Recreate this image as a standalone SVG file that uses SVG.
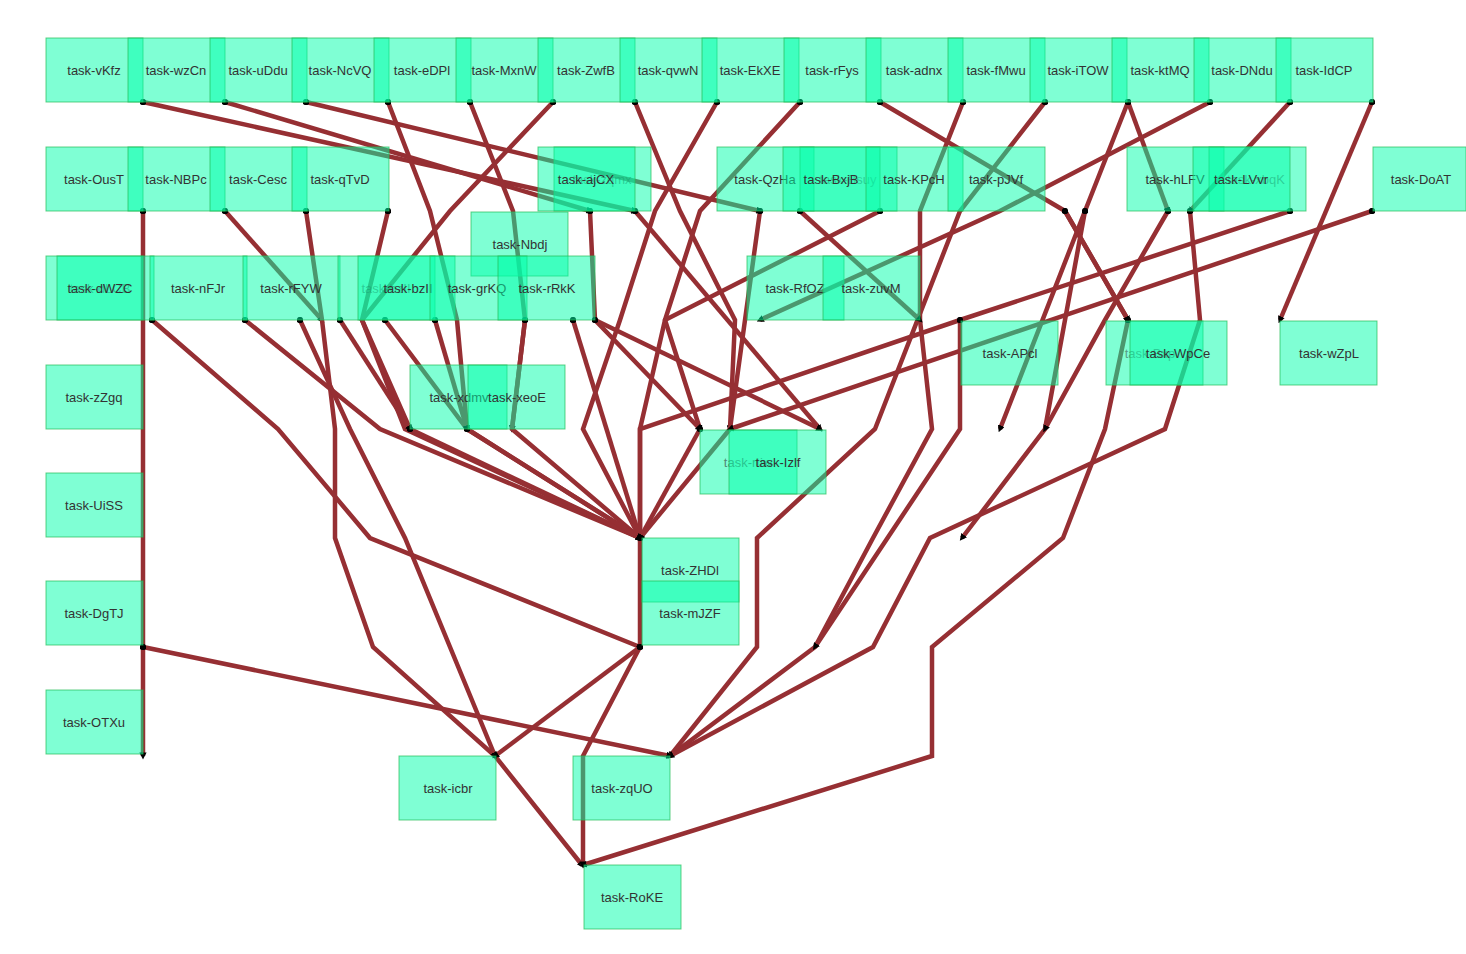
<svg xmlns="http://www.w3.org/2000/svg" width="1466" height="954" viewBox="0 0 1466 954">
<style>
.e{fill:none;stroke:#962f33;stroke-width:4.5;stroke-linejoin:miter;marker-end:url(#a);marker-start:url(#d)}
.n rect{fill:#00ffaa;fill-opacity:0.5;stroke:#22bb55;stroke-opacity:0.7;stroke-width:1}
.n text{font-family:"Liberation Sans",Arial,sans-serif;font-size:13px;fill:#333;text-anchor:middle;dominant-baseline:central}
</style>
<defs>
<marker id="a" viewBox="0 0 6 6" refX="3" refY="3" markerWidth="1.6" markerHeight="1.6" orient="auto"><path d="M0,0L6,3L0,6z" fill="#000"/></marker>
<marker id="d" viewBox="0 0 6 6" refX="3" refY="3" markerWidth="1.4" markerHeight="1.4"><circle cx="3" cy="3" r="3" fill="#000"/></marker>
</defs>
<rect width="1466" height="954" fill="#fff"/>
<g id="edges">
<polyline class="e" points="143,102 635,211"/>
<polyline class="e" points="225,102 590,211"/>
<polyline class="e" points="306,102 760,211"/>
<polyline class="e" points="388,102 430,211 457,320 467,429"/>
<polyline class="e" points="470,102 513,211 525,320 512,429"/>
<polyline class="e" points="553,102 450,211 362,320 410,429"/>
<polyline class="e" points="635,102 680,211 735,320 730,429"/>
<polyline class="e" points="717,102 655,211 620,320 583,429 640,538"/>
<polyline class="e" points="800,102 700,211 665,320 700,429"/>
<polyline class="e" points="880,102 1065,211 1128,320"/>
<polyline class="e" points="963,102 920,211 920,320 932,429 873,538 815,647 670,756"/>
<polyline class="e" points="1045,102 960,211 875,429 757,538 757,647 670,756"/>
<polyline class="e" points="1128,102 1168,211"/>
<polyline class="e" points="1128,102 1085,211 1000,429"/>
<polyline class="e" points="1210,102 1000,211 760,320"/>
<polyline class="e" points="1290,102 1190,211"/>
<polyline class="e" points="1372,102 1280,320"/>
<polyline class="e" points="143,211 143,756"/>
<polyline class="e" points="225,211 322,320"/>
<polyline class="e" points="306,211 322,320 335,429 335,538 373,647 495,756 582,865"/>
<polyline class="e" points="388,211 362,320 405,429 640,538"/>
<polyline class="e" points="590,211 595,320 700,429"/>
<polyline class="e" points="635,211 820,429"/>
<polyline class="e" points="760,211 730,429 640,538"/>
<polyline class="e" points="800,211 920,320"/>
<polyline class="e" points="880,211 665,320 640,429 640,538"/>
<polyline class="e" points="1065,211 1128,320"/>
<polyline class="e" points="1085,211 1045,429 962,538"/>
<polyline class="e" points="1168,211 1105,320 1045,429"/>
<polyline class="e" points="1190,211 1200,320 1165,429 930,538 873,647 670,756"/>
<polyline class="e" points="1290,211 960,320 640,429 640,538"/>
<polyline class="e" points="1372,211 730,429"/>
<polyline class="e" points="152,320 278,429 370,538 640,647"/>
<polyline class="e" points="245,320 380,429 640,538"/>
<polyline class="e" points="300,320 350,429 405,538 450,647 495,756"/>
<polyline class="e" points="340,320 410,429"/>
<polyline class="e" points="385,320 467,429 640,538"/>
<polyline class="e" points="435,320 467,429"/>
<polyline class="e" points="525,320 512,429 640,538"/>
<polyline class="e" points="573,320 640,538"/>
<polyline class="e" points="595,320 820,429"/>
<polyline class="e" points="960,320 960,429 815,647"/>
<polyline class="e" points="1128,320 1105,429 1063,538 932,647 932,756 583,865"/>
<polyline class="e" points="410,429 640,538"/>
<polyline class="e" points="467,429 640,538"/>
<polyline class="e" points="700,429 640,538"/>
<polyline class="e" points="640,538 640,647 583,756 583,865"/>
<polyline class="e" points="143,647 670,756"/>
<polyline class="e" points="640,647 495,756"/>
</g>
<g id="nodes" class="n">
<g id="n-vKfz"><rect x="46" y="38" width="97" height="64"/><text x="94" y="70">task-vKfz</text></g>
<g id="n-wzCn"><rect x="128" y="38" width="97" height="64"/><text x="176" y="70">task-wzCn</text></g>
<g id="n-uDdu"><rect x="210" y="38" width="97" height="64"/><text x="258" y="70">task-uDdu</text></g>
<g id="n-NcVQ"><rect x="292" y="38" width="97" height="64"/><text x="340" y="70">task-NcVQ</text></g>
<g id="n-eDPl"><rect x="374" y="38" width="97" height="64"/><text x="422" y="70">task-eDPl</text></g>
<g id="n-MxnW"><rect x="456" y="38" width="97" height="64"/><text x="504" y="70">task-MxnW</text></g>
<g id="n-ZwfB"><rect x="538" y="38" width="97" height="64"/><text x="586" y="70">task-ZwfB</text></g>
<g id="n-qvwN"><rect x="620" y="38" width="97" height="64"/><text x="668" y="70">task-qvwN</text></g>
<g id="n-EkXE"><rect x="702" y="38" width="97" height="64"/><text x="750" y="70">task-EkXE</text></g>
<g id="n-rFys"><rect x="784" y="38" width="97" height="64"/><text x="832" y="70">task-rFys</text></g>
<g id="n-adnx"><rect x="866" y="38" width="97" height="64"/><text x="914" y="70">task-adnx</text></g>
<g id="n-fMwu"><rect x="948" y="38" width="97" height="64"/><text x="996" y="70">task-fMwu</text></g>
<g id="n-iTOW"><rect x="1030" y="38" width="97" height="64"/><text x="1078" y="70">task-iTOW</text></g>
<g id="n-ktMQ"><rect x="1112" y="38" width="97" height="64"/><text x="1160" y="70">task-ktMQ</text></g>
<g id="n-DNdu"><rect x="1194" y="38" width="97" height="64"/><text x="1242" y="70">task-DNdu</text></g>
<g id="n-IdCP"><rect x="1276" y="38" width="97" height="64"/><text x="1324" y="70">task-IdCP</text></g>
<g id="n-OusT"><rect x="46" y="147" width="97" height="64"/><text x="94" y="179">task-OusT</text></g>
<g id="n-NBPc"><rect x="128" y="147" width="97" height="64"/><text x="176" y="179">task-NBPc</text></g>
<g id="n-Cesc"><rect x="210" y="147" width="97" height="64"/><text x="258" y="179">task-Cesc</text></g>
<g id="n-qTvD"><rect x="292" y="147" width="97" height="64"/><text x="340" y="179">task-qTvD</text></g>
<g id="n-mx"><rect x="554" y="147" width="97" height="64"/><text x="602" y="179" fill-opacity="0.5">task-zqmx</text></g>
<g id="n-ajCX"><rect x="538" y="147" width="97" height="64"/><text x="586" y="179">task-ajCX</text></g>
<g id="n-QzHa"><rect x="717" y="147" width="97" height="64"/><text x="765" y="179">task-QzHa</text></g>
<g id="n-uy"><rect x="800" y="147" width="97" height="64"/><text x="848" y="179" fill-opacity="0.5">task-Bsuy</text></g>
<g id="n-BxjB"><rect x="783" y="147" width="97" height="64"/><text x="831" y="179">task-BxjB</text></g>
<g id="n-KPcH"><rect x="866" y="147" width="97" height="64"/><text x="914" y="179">task-KPcH</text></g>
<g id="n-pJVf"><rect x="948" y="147" width="97" height="64"/><text x="996" y="179">task-pJVf</text></g>
<g id="n-hLFV"><rect x="1127" y="147" width="97" height="64"/><text x="1175" y="179">task-hLFV</text></g>
<g id="n-bqK"><rect x="1209" y="147" width="97" height="64"/><text x="1256" y="179" fill-opacity="0.5">task-xbqK</text></g>
<g id="n-LVvr"><rect x="1193" y="147" width="97" height="64"/><text x="1241" y="179">task-LVvr</text></g>
<g id="n-DoAT"><rect x="1373" y="147" width="93" height="64"/><text x="1421" y="179">task-DoAT</text></g>
<g id="n-Nbdj"><rect x="471" y="212" width="97" height="64"/><text x="520" y="244">task-Nbdj</text></g>
<g id="n-CB"><rect x="46" y="256" width="97" height="64"/><text x="100" y="288" fill-opacity="0.5">task-dLCB</text></g>
<g id="n-dWZC"><rect x="57" y="256" width="97" height="64"/><text x="100" y="288">task-dWZC</text></g>
<g id="n-nFJr"><rect x="150" y="256" width="97" height="64"/><text x="198" y="288">task-nFJr</text></g>
<g id="n-rFYW"><rect x="243" y="256" width="97" height="64"/><text x="291" y="288">task-rFYW</text></g>
<g id="n-t1"><rect x="338" y="256" width="97" height="64"/><text x="386" y="288" fill-opacity="0.5">task-bzII</text></g>
<g id="n-bzII"><rect x="358" y="256" width="97" height="64"/><text x="408" y="288">task-bzII</text></g>
<g id="n-grKQ"><rect x="430" y="256" width="97" height="64"/><text x="477" y="288">task-grKQ</text></g>
<g id="n-rRkK"><rect x="498" y="256" width="97" height="64"/><text x="547" y="288">task-rRkK</text></g>
<g id="n-RfOZ"><rect x="747" y="256" width="97" height="64"/><text x="795" y="288">task-RfOZ</text></g>
<g id="n-zuvM"><rect x="823" y="256" width="97" height="64"/><text x="871" y="288">task-zuvM</text></g>
<g id="n-APcl"><rect x="961" y="321" width="97" height="64"/><text x="1010" y="353">task-APcl</text></g>
<g id="n-p"><rect x="1106" y="321" width="97" height="64"/><text x="1150" y="353" fill-opacity="0.5">task-Bxp</text></g>
<g id="n-WpCe"><rect x="1130" y="321" width="97" height="64"/><text x="1178" y="353">task-WpCe</text></g>
<g id="n-wZpL"><rect x="1280" y="321" width="97" height="64"/><text x="1329" y="353">task-wZpL</text></g>
<g id="n-zZgq"><rect x="46" y="365" width="97" height="64"/><text x="94" y="397">task-zZgq</text></g>
<g id="n-xdmv"><rect x="410" y="365" width="97" height="64"/><text x="459" y="397">task-xdmv</text></g>
<g id="n-xeoE"><rect x="468" y="365" width="97" height="64"/><text x="517" y="397">task-xeoE</text></g>
<g id="n-r"><rect x="700" y="430" width="97" height="64"/><text x="748" y="462" fill-opacity="0.6">task-rtiw</text></g>
<g id="n-Izlf"><rect x="729" y="430" width="97" height="64"/><text x="778" y="462">task-Izlf</text></g>
<g id="n-UiSS"><rect x="46" y="473" width="97" height="64"/><text x="94" y="505">task-UiSS</text></g>
<g id="n-ZHDl"><rect x="642" y="538" width="97" height="64"/><text x="690" y="570">task-ZHDl</text></g>
<g id="n-mJZF"><rect x="642" y="581" width="97" height="64"/><text x="690" y="613">task-mJZF</text></g>
<g id="n-DgTJ"><rect x="46" y="581" width="97" height="64"/><text x="94" y="613">task-DgTJ</text></g>
<g id="n-OTXu"><rect x="46" y="690" width="97" height="64"/><text x="94" y="722">task-OTXu</text></g>
<g id="n-icbr"><rect x="399" y="756" width="97" height="64"/><text x="448" y="788">task-icbr</text></g>
<g id="n-zqUO"><rect x="573" y="756" width="97" height="64"/><text x="622" y="788">task-zqUO</text></g>
<g id="n-RoKE"><rect x="584" y="865" width="97" height="64"/><text x="632" y="897">task-RoKE</text></g>
</g>
</svg>
